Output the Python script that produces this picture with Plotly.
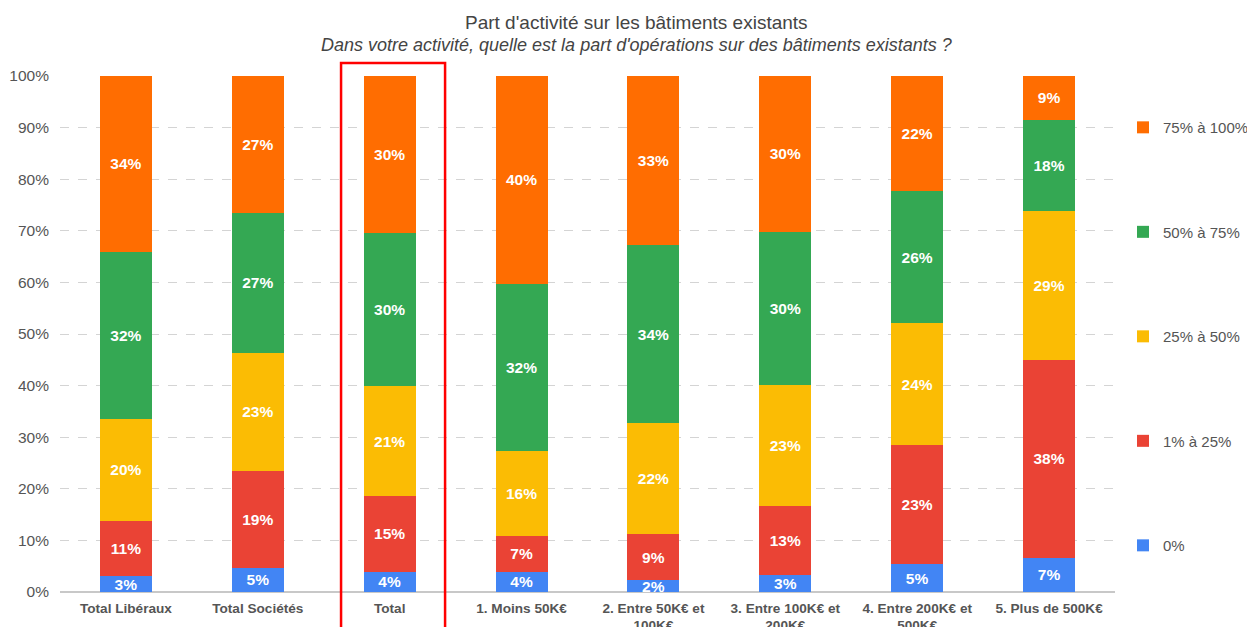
import plotly.graph_objects as go

# Categories (x axis)
categories = [
    'Total Libéraux', 'Total Sociétés', 'Total', '1. Moins 50K€',
    '2. Entre 50K€ et<br>100K€', '3. Entre 100K€ et<br>200K€',
    '4. Entre 200K€ et<br>500K€', '5. Plus de 500K€',
]

# Share of respondents per answer (%)
pct_0 = [3.1, 4.7, 3.9, 3.9, 2.3, 3.3, 5.4, 6.6]
pct_1_25 = [10.7, 18.8, 14.7, 7.0, 8.9, 13.4, 23.1, 38.4]
pct_25_50 = [19.7, 22.9, 21.3, 16.4, 21.6, 23.4, 23.6, 28.8]
pct_50_75 = [32.4, 27.0, 29.7, 32.4, 34.4, 29.7, 25.6, 17.7]
pct_75_100 = [34.1, 26.6, 30.4, 40.3, 32.8, 30.2, 22.3, 8.6]

series_names = ['0%', '1% à 25%', '25% à 50%', '50% à 75%', '75% à 100%']
series_values = [pct_0, pct_1_25, pct_25_50, pct_50_75, pct_75_100]
series_colors = ['#4285F4', '#EA4335', '#FBBC04', '#34A853', '#FF6D01']

y_ticks = list(range(0, 101, 10))
y_ticktext = [f'{v}%' for v in y_ticks]

FONT = 'Arial, Liberation Sans, sans-serif'

fig = go.Figure()

for i, (name, vals, color) in enumerate(zip(series_names, series_values, series_colors)):
    fig.add_trace(go.Bar(
        x=categories,
        y=vals,
        name=name,
        legendgroup=name,
        legendrank=len(series_names) - i,  # top segment first in legend
        marker=dict(color=color, line=dict(width=0)),
        texttemplate='%{y:.0f}%',
        textposition='inside',
        insidetextanchor='middle',
        textangle=0,
        textfont=dict(family=FONT, size=15.5, color='white', weight='bold'),
        hovertemplate='%{x}<br>' + name + ': %{y:.0f}%<extra></extra>',
    ))

# page body has an 8px margin, so the figure is a bit smaller than the window
fig.update_layout(
    barmode='stack',
    bargap=0.605,
    width=1247,
    height=619,
    margin=dict(l=52, r=140, t=68, b=35, autoexpand=False),
    paper_bgcolor='white',
    plot_bgcolor='white',
    font=dict(family=FONT, color='#555555'),
    uniformtext=dict(minsize=15.5, mode='show'),
    showlegend=True,
    legend=dict(
        x=1.0076, y=0.932, xanchor='left', yanchor='top',
        traceorder='grouped',
        tracegroupgap=82,
        font=dict(size=15, color='#555555'),
        itemwidth=30,
        bgcolor='rgba(0,0,0,0)',
    ),
    xaxis=dict(
        showgrid=False,
        tickfont=dict(size=13.6, color='#555555', weight='bold'),
        ticks='',
        ticklabelstandoff=6,
        fixedrange=True,
        automargin=False,
    ),
    yaxis=dict(
        range=[0, 100],
        tickvals=y_ticks,
        ticktext=y_ticktext,
        tickfont=dict(size=15.5, color='#555555'),
        ticklabelstandoff=10,
        showgrid=True,
        gridcolor='#d4d4d4',
        griddash='dash',
        gridwidth=1,
        zeroline=True,
        zerolinecolor='#c8c8c8',
        zerolinewidth=1.5,
        ticks='',
        automargin=False,
    ),
    annotations=[
        dict(text="Part d'activité sur les bâtiments existants",
             xref='paper', yref='paper', x=0.546, y=1.0, yshift=54,
             xanchor='center', yanchor='middle', showarrow=False,
             font=dict(size=19, color='#444444')),
        dict(text="<i>Dans votre activité, quelle est la part d'opérations sur des bâtiments existants ?</i>",
             xref='paper', yref='paper', x=0.546, y=1.0, yshift=31,
             xanchor='center', yanchor='middle', showarrow=False,
             font=dict(size=18, color='#444444')),
    ],
    shapes=[
        # red highlight frame around the "Total" column
        dict(type='rect', xref='paper', yref='paper',
             x0=0.2664, x1=0.365, y0=-0.2, y1=1.025,
             line=dict(color='#FF0000', width=2.5), fillcolor='rgba(0,0,0,0)',
             layer='above'),
    ],
)

fig.write_html('out.html')
